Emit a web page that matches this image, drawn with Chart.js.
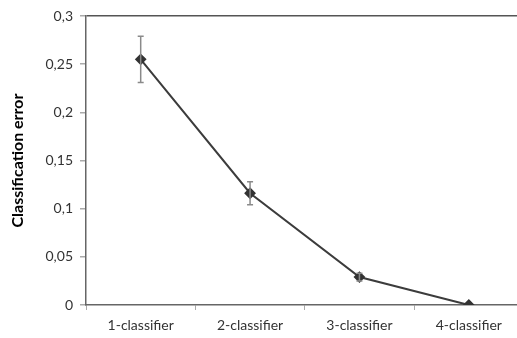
<!DOCTYPE html>
<html>
<head>
<meta charset="utf-8">
<script src="https://cdn.jsdelivr.net/npm/chart.js@4/dist/chart.umd.min.js"></script>
<style>
html,body{margin:0;padding:0;background:#fff;overflow:hidden;}
#wrap{width:530px;height:338px;position:relative;}
</style>
</head>
<body>
<div id="wrap"><canvas id="c"></canvas></div>
<script>
const categories = ['1-classifier','2-classifier','3-classifier','4-classifier'];
const errorValues = [0.255, 0.116, 0.029, 0.0];
const errorDeltas = [0.024, 0.012, 0.004, 0.0];
const yTicks = [0, 0.05, 0.1, 0.15, 0.2, 0.25, 0.3];

const errorBarPlugin = {
  id: 'errorBars',
  afterDatasetsDraw(chart) {
    const ctx = chart.ctx;
    const meta = chart.getDatasetMeta(0);
    const y = chart.scales.y;
    ctx.save();
    ctx.strokeStyle = '#8a8a8a';
    ctx.lineWidth = 1.5;
    meta.data.forEach((pt, i) => {
      const d = errorDeltas[i];
      if (!d) return;
      const v = errorValues[i];
      const yTop = y.getPixelForValue(v + d);
      const yBot = y.getPixelForValue(v - d);
      const x = pt.x;
      ctx.beginPath();
      ctx.moveTo(x, yTop); ctx.lineTo(x, yBot);
      ctx.moveTo(x - 3, yTop); ctx.lineTo(x + 3, yTop);
      ctx.moveTo(x - 3, yBot); ctx.lineTo(x + 3, yBot);
      ctx.stroke();
    });
    ctx.restore();
  }
};

new Chart(document.getElementById('c'), {
  type: 'line',
  data: {
    labels: categories,
    datasets: [{
      data: errorValues,
      borderColor: '#3c3c3c',
      borderWidth: 2,
      pointStyle: 'rectRot',
      pointRadius: 4.5,
      pointBackgroundColor: '#333',
      pointBorderColor: '#333',
      tension: 0
    }]
  },
  options: {
    responsive: true,
    maintainAspectRatio: false,
    animation: false,
    layout: { padding: { top: 16, right: 5, left: 0, bottom: 0 } },
    plugins: { legend: { display: false }, tooltip: { enabled: false } },
    scales: {
      x: {
        offset: true,
        afterFit(axis) { axis.height = 33; },
        grid: { offset: true, drawOnChartArea: false, tickLength: 5, color: '#888', tickColor: '#aaa' },
        border: { color: '#666', width: 1.5 },
        ticks: { color: '#333', font: { family: 'Lato', size: 14 }, padding: 7, maxRotation: 0 }
      },
      y: {
        min: 0, max: 0.3,
        afterFit(axis) { axis.width = 86; },
        afterBuildTicks(axis) { axis.ticks = yTicks.map(v => ({ value: v })); },
        grid: {
          color: c => (c.tick && Math.abs(c.tick.value - 0.3) < 1e-9) ? '#555' : 'rgba(0,0,0,0)',
          lineWidth: 1.5,
          tickLength: 6, tickColor: '#aaa'
        },
        border: { color: '#666', width: 1.5 },
        ticks: {
          color: '#333', font: { family: 'Lato', size: 14 }, padding: 7,
          callback: v => String(v).replace('.', ',')
        },
        title: {
          display: true, text: 'Classification error', color: '#000',
          font: { family: 'Lato', size: 16, weight: 'bold' }, padding: { top: 8, bottom: 0 }
        }
      }
    }
  },
  plugins: [errorBarPlugin]
});
</script>
</body>
</html>
